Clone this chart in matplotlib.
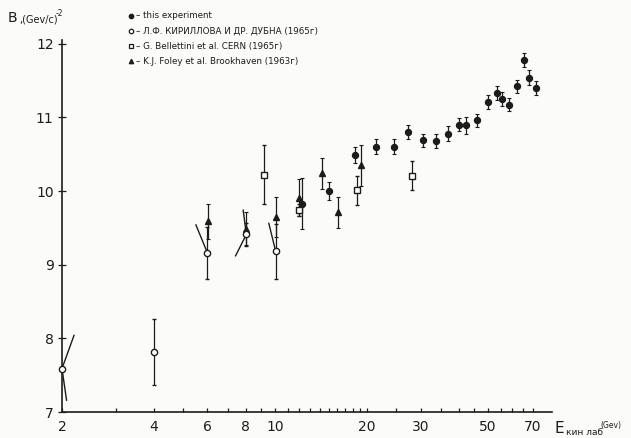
import numpy as np
import matplotlib
matplotlib.use("Agg")
import matplotlib.pyplot as plt
from matplotlib.ticker import FixedLocator, NullFormatter

ink = "#1c1c1c"

# this experiment (filled circles)
exp_e = [12.25, 15.0, 18.3, 21.5, 24.5, 27.3, 30.5, 33.7, 36.8, 40.2,
         42.2, 46.1, 50.0, 53.3, 55.4, 58.6, 62.2, 65.6, 68.1, 72.0]
exp_b = [9.83, 10.0, 10.49, 10.6, 10.6, 10.8, 10.69, 10.68, 10.78, 10.9,
         10.89, 10.96, 11.21, 11.33, 11.25, 11.17, 11.42, 11.78, 11.54, 11.40]
exp_err = [0.35, 0.12, 0.11, 0.1, 0.1, 0.1, 0.09, 0.09, 0.1, 0.09,
           0.12, 0.09, 0.1, 0.09, 0.1, 0.09, 0.09, 0.1, 0.1, 0.1]

# Kirillova et al., Dubna 1965 (open circles)
kir_e = [2.0, 4.0, 6.0, 8.05, 10.05]
kir_b = [7.59, 7.81, 9.16, 9.41, 9.18]
kir_err = [0.0, 0.45, 0.35, 0.15, 0.37]
# slanted strokes drawn from a circle to an end point
kir_tail_of = [0, 0, 2, 3, 3, 4]
kir_tail_e = [2.07, 2.19, 5.50, 7.42, 7.86, 9.54]
kir_tail_b = [7.16, 8.04, 9.54, 9.12, 9.74, 9.56]

# Bellettini et al., CERN 1965 (open squares)
bel_e = [9.21, 12.0, 18.6, 28.2]
bel_b = [10.22, 9.74, 10.01, 10.21]
bel_err = [0.4, 0.08, 0.2, 0.2]

# Foley et al., Brookhaven 1963 (triangles)
fol_e = [6.04, 8.0, 10.07, 12.0, 14.3, 16.1, 19.2]
fol_b = [9.59, 9.49, 9.65, 9.91, 10.24, 9.71, 10.35]
fol_err = [0.24, 0.22, 0.27, 0.25, 0.21, 0.21, 0.28]

x_ticks = [2, 4, 6, 8, 10, 20, 30, 50, 70]
y_ticks = [7, 8, 9, 10, 11, 12]

legend_lines = [
    ("o", ink, "– this experiment"),
    ("o", "none", "– Л.Ф. КИРИЛЛОВА И ДР. ДУБНА (1965г)"),
    ("s", "none", "– G. Bellettini et al. CERN (1965г)"),
    ("^", ink, "– K.J. Foley et al. Brookhaven (1963г)"),
]

fig = plt.figure(figsize=(6.31, 4.38), dpi=100, facecolor="#fbfbfa")
ax = fig.add_axes([62 / 631, 26 / 438, 490 / 631, 372 / 438])
ax.set_facecolor("none")
ax.set_xscale("log")
ax.set_xlim(2, 81)
ax.set_ylim(7, 12.05)

for s in ["top", "right"]:
    ax.spines[s].set_visible(False)
for s in ["left", "bottom"]:
    ax.spines[s].set_color(ink)
    ax.spines[s].set_linewidth(1.2)

ax.xaxis.set_major_locator(FixedLocator(x_ticks))
ax.xaxis.set_major_formatter(matplotlib.ticker.FixedFormatter([str(t) for t in x_ticks]))
ax.xaxis.set_minor_locator(FixedLocator([3, 5, 7, 9] + list(range(11, 20)) + [25, 35, 40, 45, 55, 60, 65]))
ax.xaxis.set_minor_formatter(NullFormatter())
ax.set_yticks(y_ticks)
ax.tick_params(axis="x", which="both", direction="in", length=3, width=0.9,
               color=ink, labelsize=10, labelcolor=ink, pad=6)
ax.tick_params(axis="y", direction="inout", length=6, width=0.9,
               color=ink, labelsize=10, labelcolor=ink, pad=3)

ebk = dict(ls="none", ecolor=ink, elinewidth=0.9, clip_on=False)
ax.errorbar(exp_e, exp_b, yerr=exp_err, fmt="o", ms=4.3, mfc=ink, mec=ink,
            capsize=1.5, capthick=0.8, **ebk)
ax.errorbar(fol_e, fol_b, yerr=fol_err, fmt="^", ms=5, mfc=ink, mec=ink,
            capsize=1.5, capthick=0.8, **ebk)
ax.errorbar(bel_e, bel_b, yerr=bel_err, fmt="s", ms=4, mfc="white", mec=ink,
            mew=1.0, capsize=1.5, capthick=0.8, **ebk)
ax.errorbar(kir_e, kir_b, yerr=kir_err, fmt="o", ms=4.5, mfc="white", mec=ink,
            mew=1.0, capsize=1.5, capthick=0.8, zorder=4, **ebk)
for i, te, tb in zip(kir_tail_of, kir_tail_e, kir_tail_b):
    ax.plot([kir_e[i], te], [kir_b[i], tb], color=ink, lw=1.0, clip_on=False, zorder=3)

# axis titles
fig.text(8 / 631, 1 - 22 / 438, "B", fontsize=10, color=ink, va="baseline")
fig.text(19 / 631, 1 - 22 / 438, ",(Gev/c)", fontsize=7, color=ink, va="baseline")
fig.text(56 / 631, 1 - 16 / 438, "-2", fontsize=5.5, color=ink, va="baseline")
fig.text(554 / 631, 1 - 433 / 438, "E", fontsize=11, color=ink, va="baseline")
fig.text(566 / 631, 1 - 435 / 438, "кин лаб", fontsize=6.5, color=ink, va="baseline")
fig.text(600 / 631, 1 - 428 / 438, "(Gev)", fontsize=5.5, color=ink, va="baseline")

# legend drawn as a column of marker + text
for k, (m, fc, label) in enumerate(legend_lines):
    yy = 1 - (16 + 15 * k) / 438
    fig.lines.append(matplotlib.lines.Line2D([131 / 631], [yy], marker=m, ms=3.2,
                                             mfc=fc, mec=ink, mew=0.9, ls="none",
                                             transform=fig.transFigure))
    fig.text(136 / 631, yy, label, fontsize=6.3, color=ink, va="center")

fig.savefig("out.png", dpi=100, facecolor=fig.get_facecolor())
